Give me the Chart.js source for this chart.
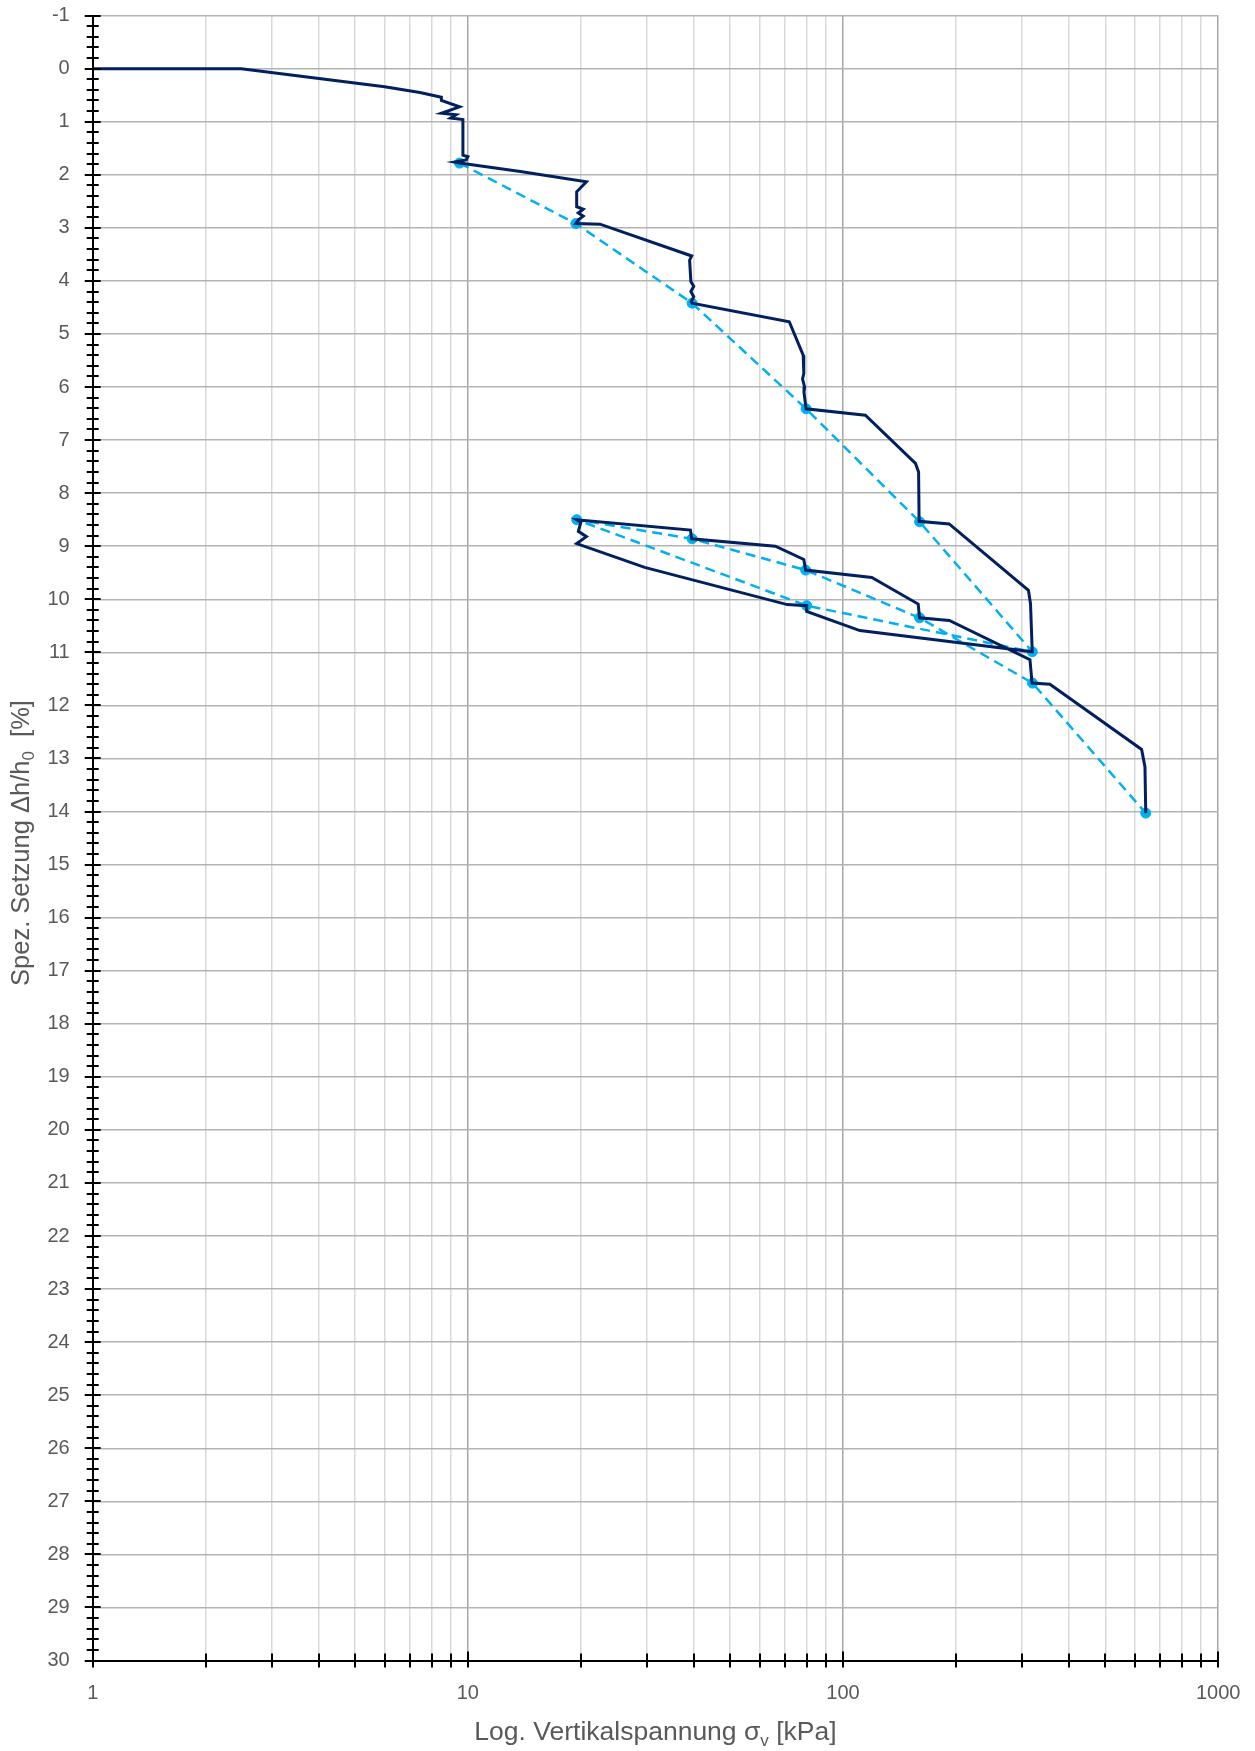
<!DOCTYPE html>
<html lang="de">
<head>
<meta charset="utf-8">
<title>Drucksetzungslinie</title>
<script src="https://cdn.jsdelivr.net/npm/chart.js@4.4.1/dist/chart.umd.min.js"></script>
<style>
  html, body { margin: 0; padding: 0; background: #fff; }
  #wrap { position: relative; width: 1255px; height: 1751px; }
</style>
</head>
<body>
<div id="wrap"><canvas id="chart"></canvas></div>
<script>
// Messkurve über alle Laststufen (kPa / %)
const curveStress = [
  1, 2.49, 6.0, 7.45, 8.5, 8.5, 9.5, 8.5, 9.3, 9.0, 9.7, 9.7, 10.0, 9.9, 9.2, 9.5,
  13.8, 20.7, 19.5, 19.5, 20.3, 19.7, 20.3, 19.7, 19.4,
  22.5, 39.5, 39.0, 39.3, 40.0, 39.3, 40.0, 39.4, 39.6,
  71.9, 78.3, 78.6, 78.0, 79.0, 78.7, 79.7,
  114.7, 156, 159, 159.5,
  191.8, 312, 316, 319.4,
  110.9, 80, 80, 71, 29.6, 19.5, 20.7, 19.7, 20, 19.5,
  39.2, 39.5, 66, 78.6, 79.5,
  119.3, 158.6, 160,
  192, 315, 319,
  356, 625, 638, 641
];
const curveSettlement = [
  0, 0, 0.34, 0.45, 0.54, 0.60, 0.72, 0.84, 0.87, 0.93, 0.96, 1.63, 1.66, 1.72, 1.76, 1.78,
  1.94, 2.13, 2.32, 2.60, 2.65, 2.72, 2.78, 2.85, 2.92,
  2.93, 3.53, 3.61, 4.01, 4.10, 4.20, 4.30, 4.39, 4.42,
  4.77, 5.40, 5.74, 5.85, 6.00, 6.10, 6.41,
  6.53, 7.44, 7.60, 8.53,
  8.58, 9.83, 10.08, 10.99,
  10.59, 10.23, 10.12, 10.10, 9.40, 8.95, 8.82, 8.72, 8.55, 8.50,
  8.695, 8.86, 9.00, 9.25, 9.45,
  9.59, 10.09, 10.35,
  10.40, 11.14, 11.58,
  11.60, 12.83, 13.16, 14.03
];

// Endwerte der Laststufen
const stepStress = [9.5, 19.4, 39.6, 79.7, 160, 319.5, 80, 19.5, 39.6, 79.5, 160, 320, 641];
const stepSettlement = [1.78, 2.92, 4.42, 6.41, 8.54, 10.99, 10.12, 8.5, 8.86, 9.45, 10.35, 11.58, 14.03];

const xTickValues = [
  1, 2, 3, 4, 5, 6, 7, 8, 9,
  10, 20, 30, 40, 50, 60, 70, 80, 90,
  100, 200, 300, 400, 500, 600, 700, 800, 900, 1000
];
const xLabelValues = [1, 10, 100, 1000];
const yMin = -1;
const yMax = 30;

const ink = "#595959";
const navy = "#002060";
const cyan = "#00b0f0";
const titleFont = "'Liberation Sans', Arial, sans-serif";

function toPoints(xs, ys) {
  return xs.map((x, i) => ({ x, y: ys[i] }));
}

// Achsentitel mit Tiefstellung
function drawParts(ctx, parts, cx, cy, size) {
  const subSize = Math.round(size * 0.65);
  let total = 0;
  for (const p of parts) {
    ctx.font = `${p.sub ? subSize : size}px ${titleFont}`;
    p.w = ctx.measureText(p.t).width;
    total += p.w;
  }
  let x = cx - total / 2;
  ctx.textAlign = "left";
  ctx.textBaseline = "middle";
  for (const p of parts) {
    ctx.font = `${p.sub ? subSize : size}px ${titleFont}`;
    ctx.fillText(p.t, x, p.sub ? cy + size * 0.3 : cy);
    x += p.w;
  }
}

const axisDecor = {
  id: "axisDecor",
  afterDraw(chart) {
    const { ctx, chartArea } = chart;
    const { x, y } = chart.scales;
    ctx.save();
    ctx.strokeStyle = "#000";
    ctx.lineWidth = 2;
    ctx.beginPath();
    const steps = Math.round((yMax - yMin) / 0.2);
    for (let i = 0; i <= steps; i++) {
      const py = Math.round(y.getPixelForValue(yMin + i * 0.2));
      const half = i % 5 === 0 ? 8 : 6;
      ctx.moveTo(chartArea.left - half, py);
      ctx.lineTo(chartArea.left + half, py);
    }
    for (const v of xTickValues) {
      const px = Math.round(x.getPixelForValue(v));
      const up = xLabelValues.includes(v) ? 9 : 7;
      ctx.moveTo(px, chartArea.bottom - up);
      ctx.lineTo(px, chartArea.bottom + 7);
    }
    ctx.stroke();

    ctx.fillStyle = ink;
    drawParts(ctx, [
      { t: "Log. Vertikalspannung σ" },
      { t: "v", sub: true },
      { t: " [kPa]" },
    ], (chartArea.left + chartArea.right) / 2, 1733, 26.5);

    ctx.translate(22, 843);
    ctx.rotate(-Math.PI / 2);
    drawParts(ctx, [
      { t: "Spez. Setzung Δh/h" },
      { t: "0", sub: true },
      { t: "  [%]" },
    ], 0, 0, 25.5);
    ctx.restore();
  },
};

new Chart(document.getElementById("chart"), {
  type: "scatter",
  data: {
    datasets: [
      {
        label: "Messkurve",
        data: toPoints(curveStress, curveSettlement),
        showLine: true,
        borderColor: navy,
        borderWidth: 3,
        pointRadius: 0,
        tension: 0,
      },
      {
        label: "Laststufen",
        data: toPoints(stepStress, stepSettlement),
        showLine: true,
        borderColor: cyan,
        borderWidth: 2.5,
        borderDash: [10, 6],
        pointRadius: 5,
        pointBackgroundColor: cyan,
        pointBorderColor: cyan,
        pointBorderWidth: 1,
        tension: 0,
      },
    ],
  },
  options: {
    responsive: true,
    maintainAspectRatio: false,
    animation: false,
    devicePixelRatio: 1,
    layout: { padding: { left: 0, top: 15.6, right: 36.8, bottom: 0 } },
    plugins: {
      legend: { display: false },
      tooltip: { enabled: false },
    },
    scales: {
      x: {
        type: "logarithmic",
        min: 1,
        max: 1000,
        afterBuildTicks(scale) {
          scale.ticks = xTickValues.map((value) => ({ value }));
        },
        afterFit(scale) {
          scale.height = 90.5;
          scale.paddingLeft = 0;
          scale.paddingRight = 0;
        },
        ticks: {
          autoSkip: false,
          maxRotation: 0,
          padding: 21,
          color: ink,
          font: { family: titleFont, size: 20 },
          callback(v) {
            return xLabelValues.includes(v) ? String(v) : "";
          },
        },
        grid: {
          drawTicks: false,
          lineWidth: 1.5,
          color(ctx) {
            const v = ctx.tick && ctx.tick.value;
            return xLabelValues.includes(v) ? "#a6a6a6" : "#d9d9d9";
          },
        },
        border: { color: "#000", width: 2 },
      },
      y: {
        type: "linear",
        reverse: true,
        min: yMin,
        max: yMax,
        afterFit(scale) {
          scale.width = 92.7;
          scale.paddingTop = 0;
          scale.paddingBottom = 0;
        },
        ticks: {
          stepSize: 1,
          autoSkip: false,
          padding: 23,
          color: ink,
          font: { family: titleFont, size: 20 },
        },
        grid: {
          drawTicks: false,
          lineWidth: 1.5,
          color: "#b3b3b3",
        },
        border: { color: "#000", width: 2 },
      },
    },
  },
  plugins: [axisDecor],
});
</script>
</body>
</html>
